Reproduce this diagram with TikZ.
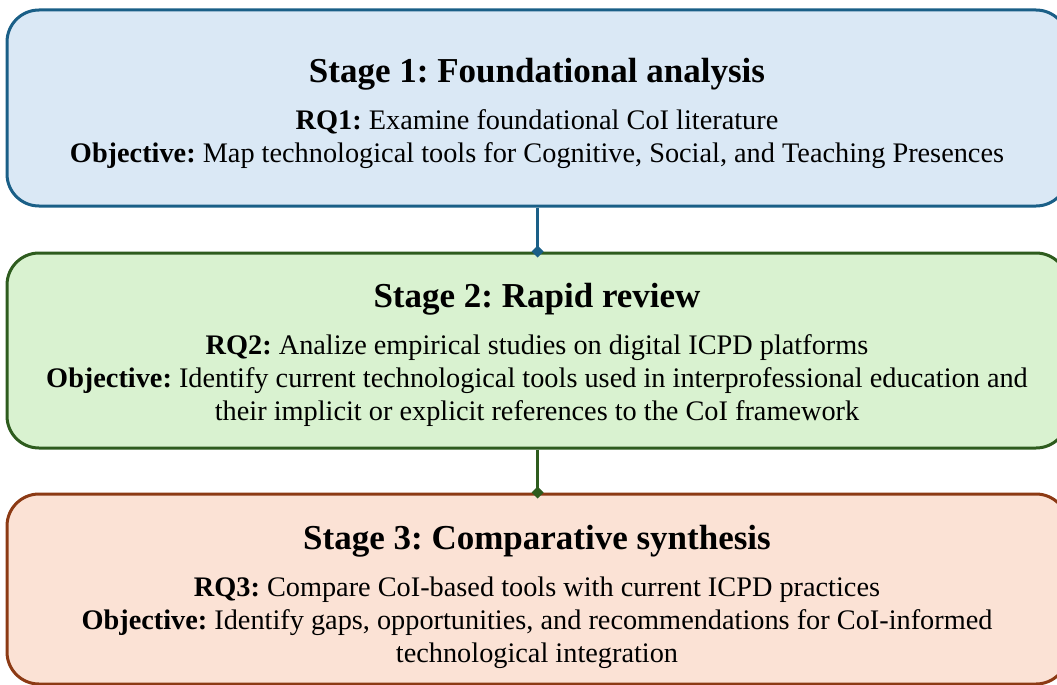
\documentclass[tikz,border=0pt]{standalone}
\usepackage{fontspec}
\setmainfont{Liberation Serif}
\usetikzlibrary{arrows.meta}
\frenchspacing

\definecolor{blueFill}{RGB}{218,232,245}
\definecolor{blueLine}{RGB}{26,95,135}
\definecolor{greenFill}{RGB}{217,242,208}
\definecolor{greenLine}{RGB}{46,92,30}
\definecolor{orangeFill}{RGB}{251,226,213}
\definecolor{orangeLine}{RGB}{140,58,20}

\tikzset{
  stagebox/.style={draw, line width=3pt, rounded corners=32pt, minimum width=1061pt, inner sep=0pt},
  stagetitle/.style={font=\fontsize{35}{40}\selectfont\bfseries, inner sep=0pt},
  stagetext/.style={font=\fontsize{28.3}{33}\selectfont, align=center, inner sep=0pt},
  link/.style={line width=3pt, -{Diamond[length=12pt,width=12pt]}, shorten >=-6pt},
}

\begin{document}
\begin{tikzpicture}[x=1pt,y=1pt]
  \useasboundingbox (0,0) rectangle (1057,-685);

  % the three stages
  \node[stagebox, fill=blueFill, draw=blueLine, minimum height=196pt] (s1) at (537.5,-108) {};
  \node[stagebox, fill=greenFill, draw=greenLine, minimum height=195pt] (s2) at (537.5,-350.5) {};
  \node[stagebox, fill=orangeFill, draw=orangeLine, minimum height=190pt] (s3) at (537.5,-589) {};

  % stage 1
  \node[stagetitle] (t1) at (537,-74) {Stage 1: Foundational analysis};
  \node[stagetext] (q1) at (537,-139) {\textbf{RQ1:} Examine foundational CoI literature\\
    \textbf{Objective:} Map technological tools for Cognitive, Social, and Teaching Presences};

  % stage 2
  \node[stagetitle] (t2) at (537,-299) {Stage 2: Rapid review};
  \node[stagetext] (q2) at (537,-381) {\textbf{RQ2:} Analize empirical studies on digital ICPD platforms\\
    \textbf{Objective:} Identify current technological tools used in interprofessional education and\\
    their implicit or explicit references to the CoI framework};

  % stage 3
  \node[stagetitle] (t3) at (537,-541) {Stage 3: Comparative synthesis};
  \node[stagetext] (q3) at (537,-622.5) {\textbf{RQ3:} Compare CoI-based tools with current ICPD practices\\
    \textbf{Objective:} Identify gaps, opportunities, and recommendations for CoI-informed\\
    technological integration};

  % connectors between stages
  \draw[link, blueLine] (s1.south) -- (s2.north);
  \draw[link, greenLine] (s2.south) -- (s3.north);
\end{tikzpicture}
\end{document}
